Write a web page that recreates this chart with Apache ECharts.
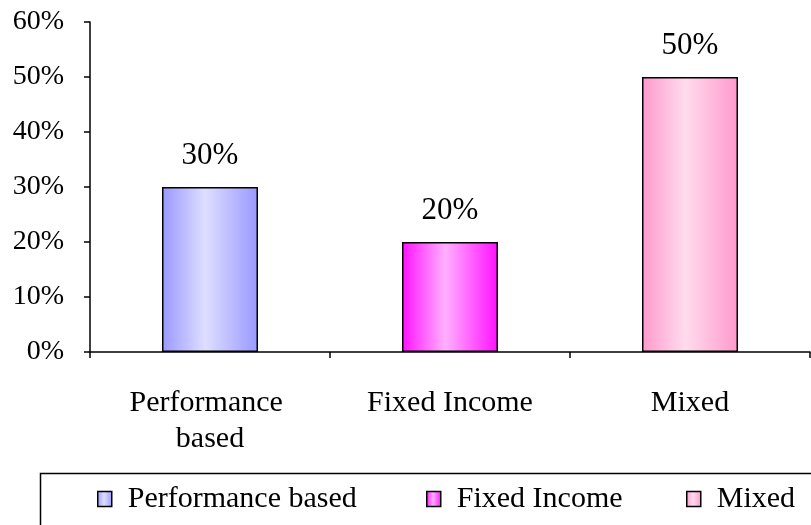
<!DOCTYPE html>
<html><head><meta charset="utf-8">
<script src="https://cdn.jsdelivr.net/npm/echarts@6/dist/echarts.min.js"></script>
<style>html,body{margin:0;padding:0;background:#fff}#c{width:811px;height:525px}</style>
</head><body><div id="c"></div>
<script>
var categories = ['Performance based', 'Fixed Income', 'Mixed'];
var values = [30, 20, 50];
var yTicks = [0, 10, 20, 30, 40, 50, 60];
var edgeColors = ['#9999ff', '#ff11ff', '#ff99cc'];
var midColors = ['#dedeff', '#ffb0ff', '#ffdcee'];

function grad(i) {
  return new echarts.graphic.LinearGradient(0, 0, 1, 0, [
    {offset: 0, color: edgeColors[i]},
    {offset: 0.45, color: midColors[i]},
    {offset: 1, color: edgeColors[i]}
  ]);
}
var font = 'Liberation Serif';
var series = categories.map(function (c, i) {
  var d = categories.map(function (cc, j) { return j === i ? values[i] : '-'; });
  return {
    name: c, type: 'bar', data: d, barWidth: '40%', barGap: '-100%',
    itemStyle: {color: grad(i), borderColor: '#000', borderWidth: 1.5},
    label: {show: true, position: 'top', distance: 16, formatter: '{c}%',
      fontFamily: font, fontSize: 31, color: '#000'}
  };
});
var legendLefts = [97, 426, 686];
var chart = echarts.init(document.getElementById('c'));
chart.setOption({
  animation: false,
  grid: {left: 90, right: 1, top: 22, bottom: 173, containLabel: false},
  xAxis: {type: 'category', data: categories,
    axisLine: {lineStyle: {color: '#000', width: 1.5}},
    axisTick: {show: true, length: 6, lineStyle: {color: '#000', width: 1.5}},
    axisLabel: {fontFamily: font, fontSize: 30, color: '#000', margin: 33,
      lineHeight: 36, width: 190, overflow: 'break', interval: 0}},
  yAxis: {type: 'value', min: yTicks[0], max: yTicks[yTicks.length - 1], interval: 10,
    splitLine: {show: false},
    axisLine: {show: true, lineStyle: {color: '#000', width: 1.5}},
    axisTick: {show: true, length: 6, lineStyle: {color: '#000', width: 1.5}},
    axisLabel: {fontFamily: font, fontSize: 28, color: '#000', margin: 26, formatter: '{value}%'}},
  legend: categories.map(function (c, i) {
    return {data: [c], left: legendLefts[i], top: 484, icon: 'rect', padding: 0,
      itemWidth: 14, itemHeight: 15, itemGap: 4,
      textStyle: {fontFamily: font, fontSize: 30, color: '#000', padding: [0, 0, 0, 11]},
      itemStyle: {borderColor: '#000', borderWidth: 1.5}};
  }),
  graphic: [{type: 'rect', shape: {x: 40.5, y: 473.5, width: 800, height: 80},
    style: {fill: 'none', stroke: '#000', lineWidth: 1.5}}],
  series: series
});
</script></body></html>
